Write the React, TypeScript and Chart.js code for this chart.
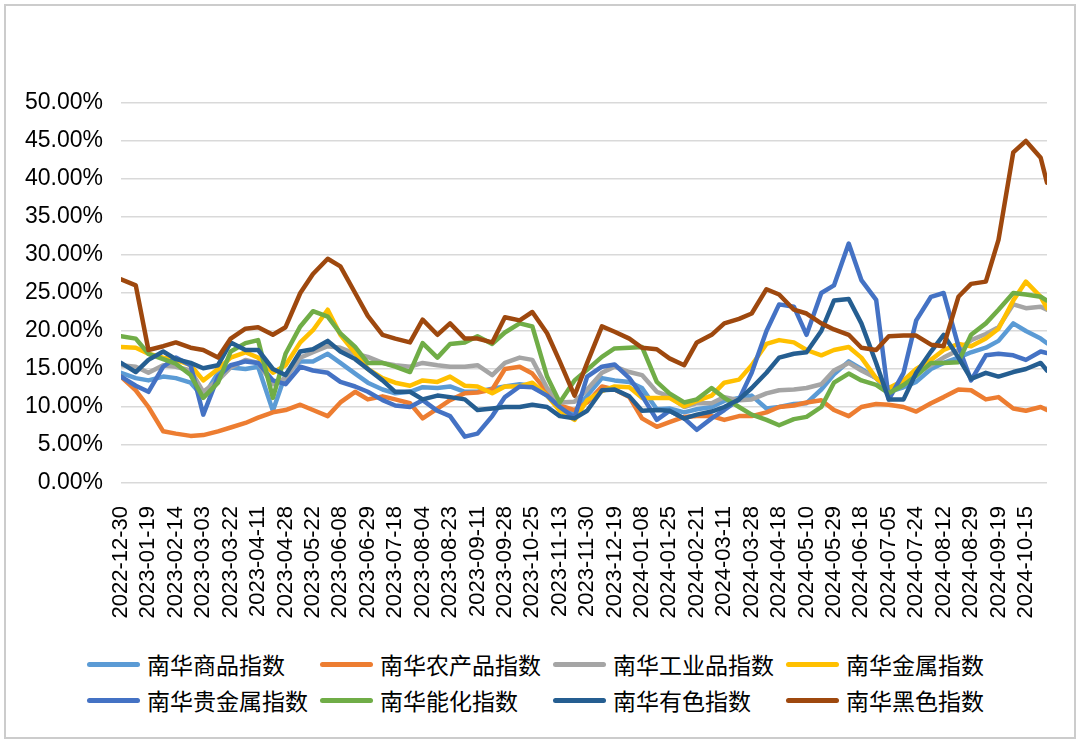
import React, { useEffect, useRef } from "react";
import { Chart, registerables } from "chart.js";

Chart.register(...registerables);

// x-axis tick labels (one every 13 trading days)
const tickDates = [
  "2022-12-30", "2023-01-19", "2023-02-14", "2023-03-03", "2023-03-22", "2023-04-11",
  "2023-04-28", "2023-05-22", "2023-06-08", "2023-06-29", "2023-07-18", "2023-08-04",
  "2023-08-23", "2023-09-11", "2023-09-28", "2023-10-25", "2023-11-13", "2023-11-30",
  "2023-12-19", "2024-01-08", "2024-01-25", "2024-02-21", "2024-03-11", "2024-03-28",
  "2024-04-18", "2024-05-10", "2024-05-29", "2024-06-18", "2024-07-05", "2024-07-24",
  "2024-08-12", "2024-08-29", "2024-09-19", "2024-10-15",
];
const tickStep = 13;
const lastDay = 439;

// trading-day index of each sampled value
const sampleDays = [
  0, 7, 13, 20, 26, 33, 39, 46, 52, 59,
  65, 72, 78, 85, 91, 98, 104, 111, 117, 124,
  130, 137, 143, 150, 156, 163, 169, 176, 182, 189,
  195, 202, 208, 215, 221, 228, 234, 241, 247, 254,
  260, 267, 273, 280, 286, 293, 299, 306, 312, 319,
  325, 332, 338, 345, 351, 358, 364, 371, 377, 384,
  390, 397, 403, 410, 416, 423, 429, 436, 439,
];

// volatility, %
const commodity = [
  14.5, 13.8, 13.5, 14, 13.8, 13.2, 11.3, 14.5, 15.2, 15,
  15.3, 9.5, 14.3, 16, 16, 17, 15.8, 14.4, 13.2, 12.3,
  11.8, 12, 12.6, 12.5, 12.7, 12, 12, 12.4, 12.7, 13,
  12.8, 11.5, 10, 9.3, 11.5, 13.8, 13.5, 13.3, 12.5, 9.7,
  9.8, 9.3, 9.7, 10, 10.8, 11.2, 11.5, 9.8, 10, 10.4,
  10.5, 12.3, 14.3, 16, 15, 13.8, 12, 12.6, 13.3, 15,
  15.8, 16.5, 17.2, 17.8, 18.7, 21, 20, 19, 18.4,
];
const agricultural = [
  14, 12.2, 10, 6.8, 6.5, 6.2, 6.3, 6.8, 7.3, 7.9,
  8.6, 9.3, 9.6, 10.3, 9.6, 8.8, 10.6, 12, 11, 11.4,
  11, 10.5, 8.5, 9.8, 10.9, 11.8, 11.9, 12.3, 15, 15.3,
  14.4, 12, 10.2, 9.6, 10.6, 12.7, 12.3, 11.3, 8.5, 7.4,
  8, 8.7, 8.8, 8.8, 8.3, 8.8, 8.8, 9.3, 10, 10.2,
  10.6, 10.9, 9.6, 8.8, 10, 10.4, 10.3, 10, 9.4, 10.5,
  11.3, 12.3, 12.2, 11, 11.3, 9.8, 9.5, 10, 9.6,
];
const industrial = [
  15.5, 15.3, 14.5, 15.5, 15.3, 14.8, 12, 13.5, 15.2, 16.2,
  15.8, 13, 13.8, 16.5, 17.2, 18, 17.8, 17, 16.6, 15.8,
  15.5, 15.3, 15.8, 15.5, 15.3, 15.3, 15.5, 14.2, 15.8, 16.5,
  16.2, 12.5, 10.6, 10.7, 12.3, 14.5, 15.3, 14.6, 14.2, 12,
  11.4, 10, 10.5, 10.5, 11.3, 10.9, 11, 11.8, 12.2, 12.3,
  12.5, 13, 14.8, 15.8, 14.8, 13.8, 12.5, 13, 14.5, 15.5,
  16.5, 17.5, 18.8, 19.6, 20.5, 23.5, 23, 23.2, 22.8,
];
const metals = [
  17.9, 17.8, 17, 16.5, 16.2, 15.5, 13.5, 15, 16.5, 17.2,
  16.5, 14.5, 15.5, 18.5, 20.1, 22.8, 19.5, 17.1, 15, 13.8,
  13.2, 12.8, 13.5, 13.3, 14, 12.8, 12.7, 11.8, 12.7, 12.7,
  13.2, 11.5, 9.5, 8.3, 10.9, 12.1, 12.7, 12.6, 11.2, 11.2,
  11.2, 10.1, 10.8, 11.5, 13.2, 13.6, 15.5, 18.3, 18.8, 18.5,
  17.5, 16.8, 17.5, 17.9, 16.5, 13.8, 12.5, 13.5, 15, 16.2,
  17.5, 18.3, 18, 19, 20.3, 24, 26.5, 24.5, 23,
];
const preciousMetals = [
  14, 12.8, 12, 15.3, 16.5, 15.5, 9, 14, 15.5, 16,
  15.8, 13.5, 13, 15.3, 14.8, 14.5, 13.3, 12.7, 12, 10.9,
  10.2, 10, 10.9, 9.5, 8.8, 6.1, 6.5, 8.8, 11.3, 12.7,
  12.6, 11.5, 10, 8.6, 14, 15.3, 15.6, 13.8, 11.5, 8.3,
  9.5, 8.5, 7, 8.5, 9.6, 11, 14.5, 20, 23.5, 23.2,
  19.5, 25, 26, 31.5, 26.7, 24.1, 11, 14.5, 21.4, 24.5,
  25, 18, 13.5, 16.8, 17, 16.8, 16.2, 17.3, 17.1,
];
const energyChem = [
  19.3, 19, 17, 16.3, 15.7, 14.2, 11.2, 13.2, 17.3, 18.4,
  18.8, 11.2, 17, 20.6, 22.6, 21.9, 19.7, 17.9, 15.8, 15.8,
  15.3, 14.6, 18.4, 16.5, 18.3, 18.5, 19.3, 18.3, 19.8, 21,
  20.6, 14, 10.6, 13.5, 14.9, 16.6, 17.7, 17.8, 17.9, 13.3,
  11.8, 10.6, 11, 12.5, 11.2, 10, 9, 8.3, 7.6, 8.4,
  8.7, 10, 13.2, 14.4, 13.5, 12.9, 11.8, 12.9, 14.1, 15.8,
  15.8, 15.9, 19.5, 21, 22.8, 25, 24.8, 24.5, 24,
];
const nonferrous = [
  15.8, 14.6, 16.2, 17.3, 16.3, 15.8, 15.1, 15.5, 18.5, 17.5,
  17.5, 15, 14.2, 17.3, 17.6, 18.7, 17.3, 16.3, 15, 13.5,
  12, 12, 11, 11.5, 11.3, 11, 9.6, 9.8, 10, 10,
  10.3, 10, 8.8, 8.5, 9.5, 12.2, 12.3, 11.4, 9.5, 9.6,
  9.5, 8.5, 9, 9.4, 10, 11, 12.5, 14.5, 16.5, 17,
  17.2, 20, 24, 24.2, 21, 15.8, 11, 11, 14.5, 17.3,
  19.5, 16.5, 13.7, 14.5, 14, 14.6, 15, 15.8, 14.8,
];
const ferrous = [
  26.8, 26, 17.5, 18, 18.5, 17.8, 17.5, 16.5, 19, 20.3,
  20.5, 19.5, 20.5, 25, 27.5, 29.5, 28.5, 25, 22, 19.5,
  19, 18.5, 21.5, 19.5, 21, 19, 19, 18.5, 21.8, 21.4,
  22.5, 19.7, 16, 11.5, 15.8, 20.6, 19.9, 19, 17.8, 17.6,
  16.4, 15.5, 18.5, 19.5, 21, 21.6, 22.3, 25.5, 24.8, 22.8,
  22.3, 21, 20.2, 19.5, 17.8, 17.5, 19.3, 19.4, 19.4, 18.2,
  18, 24.5, 26.2, 26.5, 32, 43.5, 45, 42.8, 39.5,
];

const seriesNames = [
  "南华商品指数", "南华农产品指数", "南华工业品指数", "南华金属指数",
  "南华贵金属指数", "南华能化指数", "南华有色指数", "南华黑色指数",
];
const seriesColors = [
  "#5B9BD5", "#ED7D31", "#A5A5A5", "#FFC000",
  "#4472C4", "#70AD47", "#255E91", "#9E480E",
];

export default function App() {
  const ref = useRef<HTMLCanvasElement>(null);

  useEffect(() => {
    const canvas = ref.current;
    if (!canvas) return;
    const seriesValues = [
      commodity, agricultural, industrial, metals,
      preciousMetals, energyChem, nonferrous, ferrous,
    ];
    const chart = new Chart(canvas, {
      type: "line",
      data: {
        datasets: seriesValues.map((vals, i) => ({
          label: seriesNames[i],
          data: vals.map((v, j) => ({ x: sampleDays[j], y: v })),
          borderColor: seriesColors[i],
          backgroundColor: seriesColors[i],
          borderWidth: 4.5,
          pointRadius: 0,
          tension: 0,
          borderJoinStyle: "round",
          borderCapStyle: "round",
          order: seriesValues.length - 1 - i,
        })),
      },
      options: {
        responsive: false,
        animation: false,
        layout: { padding: { top: 103, right: 33, bottom: 0, left: 0 } },
        plugins: { legend: { display: false }, tooltip: { enabled: false } },
        scales: {
          x: {
            type: "linear",
            min: 0,
            max: lastDay,
            afterBuildTicks: (s: any) => {
              s.ticks = tickDates.map((_, i) => ({ value: i * tickStep }));
            },
            afterFit: (s: any) => {
              s.height = 157;
            },
            grid: { display: false },
            border: { display: false },
            ticks: {
              autoSkip: false,
              minRotation: 90,
              maxRotation: 90,
              padding: 15,
              color: "#000",
              font: { family: "'Liberation Sans', Arial, sans-serif", size: 22 },
              callback: (v: any) => tickDates[Math.round(Number(v) / tickStep)] ?? "",
            },
          },
          y: {
            min: 0,
            max: 50,
            afterFit: (s: any) => {
              s.width = 121;
            },
            grid: { color: "#d9d9d9", lineWidth: 1.5, drawTicks: false },
            border: { display: false },
            ticks: {
              stepSize: 5,
              padding: 18,
              color: "#000",
              font: { family: "'Liberation Sans', Arial, sans-serif", size: 23 },
              callback: (v: any) => Number(v).toFixed(2) + "%",
            },
          },
        },
      },
    } as any);
    return () => chart.destroy();
  }, []);

  const rows = [
    [0, 1, 2, 3],
    [4, 5, 6, 7],
  ];

  return (
    <div style={{ position: "fixed", left: 0, top: 0, width: 1080, height: 743, background: "#fff", overflow: "hidden" }}>
      <canvas ref={ref} width={1080} height={640} style={{ position: "absolute", left: 0, top: 0, display: "block" }} />
      <div style={{ position: "absolute", left: 87, top: 646 }}>
        {rows.map((row, r) => (
          <div key={r} style={{ display: "flex", height: 36, alignItems: "center" }}>
            {row.map((i) => (
              <div key={i} style={{ width: 233, display: "flex", alignItems: "center" }}>
                <span
                  style={{
                    display: "inline-block",
                    width: 53,
                    height: 5,
                    borderRadius: 3,
                    background: seriesColors[i],
                    marginRight: 7,
                  }}
                />
                <span
                  style={{
                    fontFamily: "'Noto Sans CJK SC', sans-serif",
                    fontSize: 23,
                    lineHeight: "36px",
                    color: "#000",
                    whiteSpace: "nowrap",
                  }}
                >
                  {seriesNames[i]}
                </span>
              </div>
            ))}
          </div>
        ))}
      </div>
      <div
        style={{
          position: "absolute",
          left: 4,
          top: 4,
          width: 1072,
          height: 735,
          border: "2px solid #cccccc",
          boxSizing: "border-box",
          pointerEvents: "none",
        }}
      />
    </div>
  );
}
